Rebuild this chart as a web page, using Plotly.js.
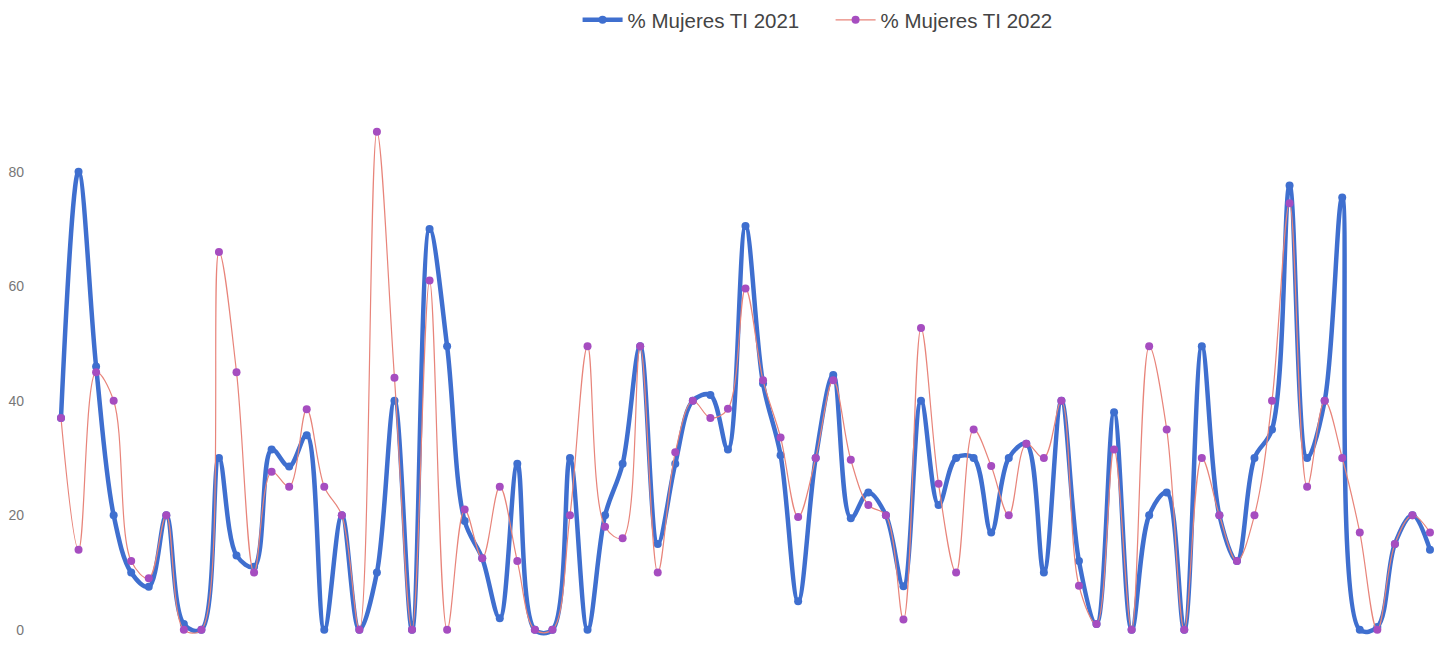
<!DOCTYPE html>
<html><head><meta charset="utf-8">
<script src="https://cdn.plot.ly/plotly-3.0.1.min.js"></script>
<style>html,body{margin:0;padding:0;background:#fff}#chart{width:1447px;height:647px}</style>
</head><body><div id="chart"></div>
<script>
const seriesNames = ["% Mujeres TI 2021", "% Mujeres TI 2022"];
const mujeres2021 = [37,80,46,20,10,7.5,20,1,0,30,13,11,31.5,28.5,34,0,20,0,10,40,0,70,49.5,19,12.5,2,29,0,0,30,0,20,29,49.5,15,29,40,41,31.5,70.5,43,30.5,5,30,44.5,19.5,24,20,7.6,40,21.8,30,30,17,30,32.5,10,40,12,1,38,0,20,24,0,49.5,20,12,30,35,77.6,30,40,75.5,0,0.5,15,20,14];
const mujeres2022 = [37,14,45,40,12,9,20,0,0,66,45,10,27.6,25,38.5,25,20,0,87,44,0,61,0,21,12.5,25,12,0,0,20,49.5,18,16,49.5,10,31,40,37,38.6,59.6,43.6,33.6,19.7,30,43.6,29.7,21.8,20,1.8,52.7,25.5,10,35,28.6,20,32.5,30,40,7.7,1,31.5,0,49.5,35,0,30,20,12,20,40,74.5,25,40,30,17,0,15,20,17];
const categories = mujeres2021.map((_, i) => i + 1);
const yTicks = [0, 20, 40, 60, 80];

const data = [
  {x: categories, y: mujeres2021, name: seriesNames[0], type: "scatter", mode: "lines+markers",
   line: {color: "#3F6FCF", width: 4.5, shape: "spline", smoothing: 1},
   marker: {color: "#3F6FCF", size: 8}, cliponaxis: false},
  {x: categories, y: mujeres2022, name: seriesNames[1], type: "scatter", mode: "lines+markers",
   line: {color: "#E8847A", width: 1.2, shape: "spline", smoothing: 1},
   marker: {color: "#A64DC0", size: 8}, cliponaxis: false}
];
const layout = {
  width: 1447, height: 647,
  margin: {l: 30, r: 10, t: 103, b: 0},
  paper_bgcolor: "#fff", plot_bgcolor: "#fff",
  font: {family: "Liberation Sans, Arial, sans-serif", color: "#666"},
  showlegend: true,
  legend: {orientation: "h", x: 0.569, xanchor: "center", y: 1.153, yanchor: "middle",
           font: {size: 20.5, color: "#444"}, itemwidth: 40, entrywidth: 198, tracegroupgap: 0},
  xaxis: {range: [-0.766, 79.4], showgrid: false, zeroline: false, showticklabels: false, showline: false},
  yaxis: {range: [-3, 92], tickvals: yTicks, ticktext: yTicks.map(String), showgrid: false, zeroline: false,
          showline: false, tickfont: {size: 14, color: "#777"}, ticks: "", ticklabelstandoff: 5}
};
Plotly.newPlot("chart", data, layout, {displayModeBar: false, staticPlot: true});
</script></body></html>
